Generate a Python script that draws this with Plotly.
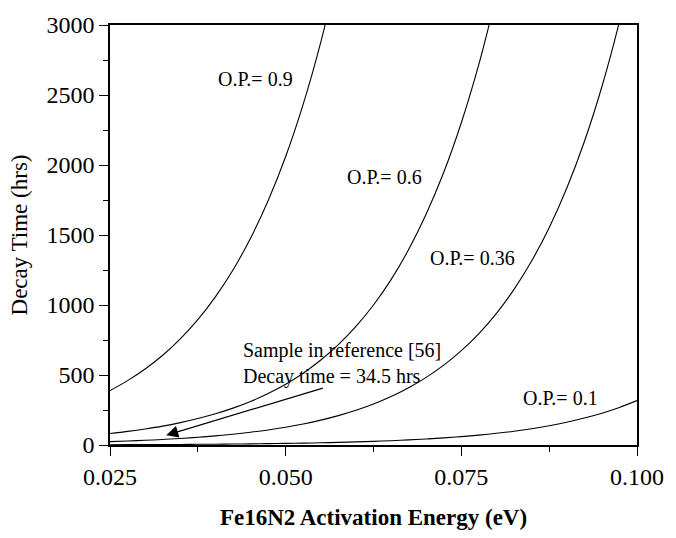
import plotly.graph_objects as go

# Activation energy grid (eV)
energy = [0.025, 0.0275, 0.030, 0.0325, 0.035, 0.0375, 0.040, 0.0425, 0.045, 0.0475,
          0.050, 0.0525, 0.055, 0.0575, 0.060, 0.0625, 0.065, 0.0675, 0.070, 0.0725,
          0.075, 0.0775, 0.080, 0.0825, 0.085, 0.0875, 0.090, 0.0925, 0.095, 0.0975, 0.100]

# Decay time (hrs) for each order parameter
op_09 = [389, 460, 543, 641, 758, 895, 1058, 1250, 1477, 1745, 2061, 2435, 2878, 3400]
op_06 = [82, 97, 114.5, 135, 160, 189, 223, 263.5, 311, 368, 434.5, 513, 607, 717,
         847, 1000, 1181, 1396, 1650, 1948, 2302, 2720, 3214]
op_036 = [24, 28.4, 33.5, 39.6, 46.8, 55.2, 65.3, 77.1, 91.1, 107.7, 127.2, 150.2, 177.6,
          209.8, 247.8, 292.6, 345.8, 408.7, 482.9, 570.2, 673.9, 796.3, 940.8, 1112,
          1314, 1552, 1834, 2166, 2559, 3024, 3572]
op_01 = [2.1, 2.5, 3.0, 3.5, 4.1, 4.9, 5.8, 6.8, 8.1, 9.6, 11.3, 13.3, 15.8, 18.6, 22.0,
         26.0, 30.7, 36.3, 42.9, 50.6, 59.8, 70.7, 83.5, 98.7, 116.6, 137.7, 162.7, 192.2,
         227, 268.4, 317]

series = [("O.P.= 0.9", op_09), ("O.P.= 0.6", op_06), ("O.P.= 0.36", op_036), ("O.P.= 0.1", op_01)]

x_ticks = [0.025, 0.050, 0.075, 0.100]
x_tick_labels = ["0.025", "0.050", "0.075", "0.100"]
y_ticks = [0, 500, 1000, 1500, 2000, 2500, 3000]

FONT = "Liberation Serif, Times New Roman, serif"

fig = go.Figure()
for name, vals in series:
    fig.add_trace(go.Scatter(x=energy[:len(vals)], y=vals, mode="lines", name=name,
                             line=dict(color="black", width=1.1, shape="spline"),
                             showlegend=False))

# Curve labels
labels = [("O.P.= 0.9", 0.0401, 2613), ("O.P.= 0.6", 0.0585, 1917),
          ("O.P.= 0.36", 0.0702, 1335), ("O.P.= 0.1", 0.0835, 335)]
for text, lx, ly in labels:
    fig.add_annotation(x=lx, y=ly, text=text, showarrow=False, xanchor="left", yanchor="middle",
                       font=dict(family=FONT, size=20, color="black"))

fig.add_annotation(x=0.0436, y=678, text="Sample in reference [56]", showarrow=False,
                   xanchor="left", yanchor="middle", font=dict(family=FONT, size=20, color="black"))
fig.add_annotation(x=0.0436, y=491, text="Decay time = 34.5 hrs", showarrow=False,
                   xanchor="left", yanchor="middle", font=dict(family=FONT, size=20, color="black"))

# Arrow
fig.add_annotation(x=0.0330, y=70, ax=0.0555, ay=410, axref="x", ayref="y", xref="x", yref="y",
                   text="", showarrow=True, arrowhead=2, arrowsize=2, arrowwidth=1.2,
                   arrowcolor="black")

axis_common = dict(showgrid=False, zeroline=False, showline=True, linecolor="black", linewidth=1.5,
                   mirror=True, ticks="outside", tickcolor="black", ticklen=9, tickwidth=1.2,
                   tickfont=dict(family=FONT, size=24, color="black"))

fig.update_xaxes(range=[0.025, 0.100], tickvals=x_ticks, ticktext=x_tick_labels,
                 minor=dict(ticks="outside", ticklen=5, tickwidth=1.2, tickcolor="black", dtick=0.0125,
                            tick0=0.025),
                 title=dict(text="<b>Fe16N2 Activation Energy (eV)</b>", standoff=20,
                            font=dict(family=FONT, size=23, color="black")),
                 **axis_common)
fig.update_yaxes(range=[0, 3000], tickvals=y_ticks,
                 minor=dict(ticks="outside", ticklen=5, tickwidth=1.2, tickcolor="black", dtick=250),
                 title=dict(text="Decay Time (hrs)", standoff=12,
                            font=dict(family=FONT, size=23, color="black")),
                 **axis_common)

fig.update_layout(width=676, height=538, margin=dict(l=110, r=33, t=22, b=87),
                  plot_bgcolor="white", paper_bgcolor="white",
                  font=dict(family=FONT, color="black"))

fig.write_html("out.html")
